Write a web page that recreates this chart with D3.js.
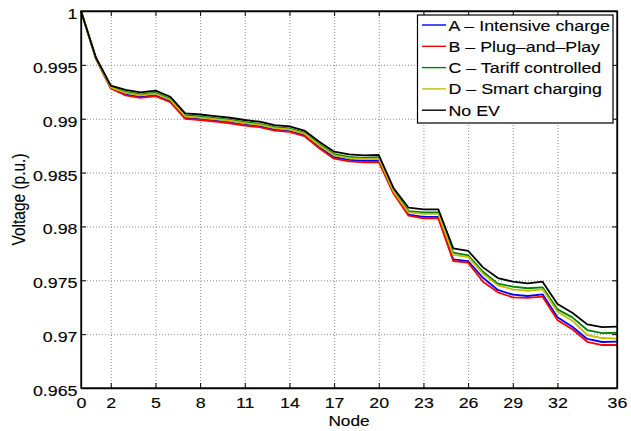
<!DOCTYPE html>
<html>
<head>
<meta charset="utf-8">
<script src="https://cdn.jsdelivr.net/npm/d3@7"></script>
<style>
  html, body { margin: 0; padding: 0; background: #fff; }
  svg { display: block; }
  text { font-family: "Liberation Sans", Arial, Helvetica, sans-serif; fill: #000; stroke: #000; stroke-width: 0.12px; }
</style>
</head>
<body>
<svg id="chart" width="631" height="431"></svg>
<script>
const nodes = [0,1,2,3,4,5,6,7,8,9,10,11,12,13,14,15,16,17,18,19,20,21,22,23,24,25,26,27,28,29,30,31,32,33,34,35,36];

const seriesNames = ["A \u2013 Intensive charge", "B \u2013 Plug\u2013and\u2013Play", "C \u2013 Tariff controlled", "D \u2013 Smart charging", "No EV"];
const seriesColors = ["#0000ff", "#ff0000", "#008000", "#bfbf00", "#000000"];

const valuesA = [1.00000,0.99559,0.99285,0.99225,0.99203,0.99218,0.99162,0.99008,0.98997,0.98983,0.98967,0.98946,0.98930,0.98899,0.98886,0.98848,0.98735,0.98643,0.98618,0.98609,0.98612,0.98312,0.98109,0.98089,0.98089,0.97695,0.97678,0.97523,0.97410,0.97366,0.97354,0.97370,0.97156,0.97069,0.96955,0.96927,0.96930];
const valuesB = [1.00000,0.99557,0.99280,0.99216,0.99194,0.99209,0.99153,0.98999,0.98988,0.98974,0.98958,0.98937,0.98921,0.98890,0.98877,0.98839,0.98726,0.98629,0.98604,0.98595,0.98598,0.98303,0.98100,0.98075,0.98075,0.97679,0.97663,0.97487,0.97388,0.97342,0.97336,0.97348,0.97130,0.97045,0.96929,0.96899,0.96899];
const valuesC = [1.00000,0.99563,0.99297,0.99248,0.99226,0.99241,0.99185,0.99031,0.99020,0.99006,0.98990,0.98969,0.98953,0.98922,0.98909,0.98871,0.98763,0.98671,0.98646,0.98637,0.98640,0.98331,0.98142,0.98131,0.98131,0.97756,0.97731,0.97579,0.97468,0.97441,0.97426,0.97435,0.97230,0.97156,0.97038,0.97010,0.97013];
const valuesD = [1.00000,0.99562,0.99291,0.99239,0.99217,0.99232,0.99176,0.99022,0.99011,0.98997,0.98981,0.98960,0.98944,0.98913,0.98900,0.98862,0.98754,0.98660,0.98635,0.98626,0.98629,0.98322,0.98130,0.98117,0.98117,0.97735,0.97718,0.97561,0.97453,0.97416,0.97403,0.97416,0.97208,0.97125,0.96992,0.96964,0.96958];
const valuesNoEV = [1.00000,0.99568,0.99308,0.99267,0.99245,0.99260,0.99204,0.99050,0.99039,0.99025,0.99009,0.98988,0.98972,0.98941,0.98928,0.98890,0.98786,0.98694,0.98669,0.98660,0.98663,0.98354,0.98174,0.98159,0.98159,0.97797,0.97774,0.97620,0.97521,0.97487,0.97472,0.97487,0.97279,0.97199,0.97091,0.97066,0.97069];

const xTicks = [0,2,5,8,11,14,17,20,23,26,29,32,36];
const yTicks = [0.965,0.97,0.975,0.98,0.985,0.99,0.995,1];
const yTickLabels = ["0.965","0.97","0.975","0.98","0.985","0.99","0.995","1"];
const xLabel = "Node";
const yLabel = "Voltage (p.u.)";

const allSeries = [valuesA, valuesB, valuesC, valuesD, valuesNoEV];

const L = 81, R = 617, T = 11, B = 388;
const W = R - L, H = B - T;
const SX = 1.15;         // horizontal stretch of the original figure's text
const FS = 15.5;

const svg = d3.select("#chart");
const x = d3.scaleLinear().domain([0, 36]).range([L, R]);
const y = d3.scaleLinear().domain([0.965, 1]).range([B, T]);

// grid
const gx = svg.append("g").attr("transform", `translate(0,${T})`)
  .call(d3.axisBottom(x).tickValues(xTicks).tickSize(H).tickFormat(""));
gx.select(".domain").remove();
gx.selectAll("line").attr("stroke", "#8c8c8c").attr("stroke-dasharray", "1,2").attr("stroke-width", 1);

const gy = svg.append("g").attr("transform", `translate(${L},0)`)
  .call(d3.axisRight(y).tickValues(yTicks).tickSize(W).tickFormat(""));
gy.select(".domain").remove();
gy.selectAll("line").attr("stroke", "#8c8c8c").attr("stroke-dasharray", "1,2").attr("stroke-width", 1);

// lines
const line = d3.line().x((d, i) => x(nodes[i])).y(d => y(d));
svg.append("g").selectAll("path").data(allSeries).join("path")
  .attr("d", d => line(d))
  .attr("fill", "none")
  .attr("stroke", (d, i) => seriesColors[i])
  .attr("stroke-width", 1.8)
  .attr("stroke-linejoin", "round");

// axes with inner ticks
const axB = svg.append("g").attr("transform", `translate(0,${B})`)
  .call(d3.axisBottom(x).tickValues(xTicks).tickSizeInner(-5).tickSizeOuter(0).tickPadding(0));
axB.selectAll("text")
  .attr("y", 20.5).attr("dy", 0)
  .attr("font-size", FS)
  .attr("transform", `scale(${SX},1)`);

const axL = svg.append("g").attr("transform", `translate(${L},0)`)
  .call(d3.axisLeft(y).tickValues(yTicks).tickFormat((d, i) => yTickLabels[i]).tickSizeInner(-5).tickSizeOuter(0));
axL.selectAll("text")
  .attr("x", -3.5 / SX).attr("dy", 7.5)
  .attr("font-size", FS)
  .attr("transform", `scale(${SX},1)`);

const axT = svg.append("g").attr("transform", `translate(0,${T})`)
  .call(d3.axisTop(x).tickValues(xTicks).tickSizeInner(-5).tickSizeOuter(0).tickFormat(""));
const axR = svg.append("g").attr("transform", `translate(${R},0)`)
  .call(d3.axisRight(y).tickValues(yTicks).tickSizeInner(-5).tickSizeOuter(0).tickFormat(""));

[axB, axL, axT, axR].forEach(g => {
  g.selectAll(".domain").attr("stroke", "#000").attr("stroke-width", 1.3);
  g.selectAll("line").attr("stroke", "#000").attr("stroke-width", 1);
});

// box
svg.append("rect").attr("x", L).attr("y", T).attr("width", W).attr("height", H)
  .attr("fill", "none").attr("stroke", "#000").attr("stroke-width", 1.3);

// axis labels
svg.append("text")
  .attr("transform", `translate(${(L + R) / 2},425.5) scale(${SX},1)`)
  .attr("text-anchor", "middle").attr("font-size", 15).text(xLabel);
svg.append("text")
  .attr("transform", `translate(25,${(T + B) / 2}) scale(${SX},1) rotate(-90)`)
  .attr("text-anchor", "middle").attr("font-size", FS).text(yLabel);

// legend
const lg = svg.append("g");
lg.append("rect").attr("x", 417.5).attr("y", 15).attr("width", 195.5).attr("height", 108)
  .attr("fill", "#fff").attr("stroke", "#000").attr("stroke-width", 1.2);
const items = lg.selectAll("g.item").data(seriesNames).join("g")
  .attr("class", "item")
  .attr("transform", (d, i) => `translate(0,${30.5 + i * 21.3})`);
items.append("line").attr("x1", 422).attr("x2", 446).attr("y1", -5.5).attr("y2", -5.5)
  .attr("stroke", (d, i) => seriesColors[i]).attr("stroke-width", 1.4);
items.append("text")
  .attr("transform", `translate(448.5,0) scale(${SX},1)`)
  .attr("font-size", FS).text(d => d);
</script>
</body>
</html>
